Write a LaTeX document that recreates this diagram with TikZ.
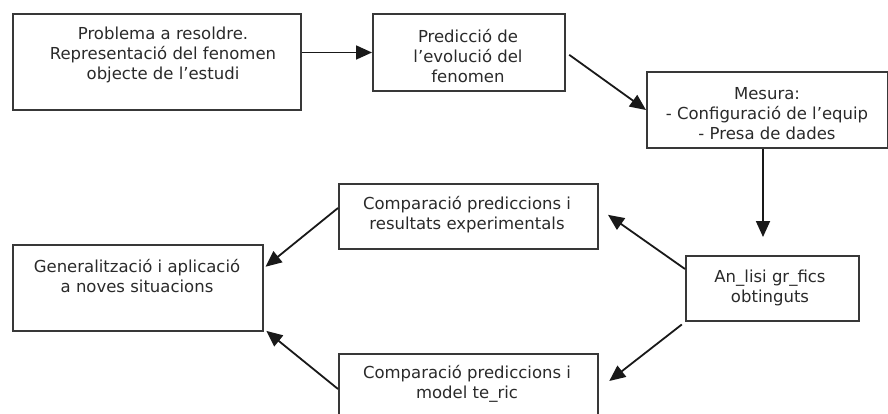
\documentclass[tikz,border=0pt]{standalone}
\usepackage{fontspec}
\setmainfont{DejaVu Sans}
\usetikzlibrary{arrows.meta,calc}
\definecolor{boxline}{HTML}{383838}
\definecolor{txtc}{HTML}{2A2A2A}
\tikzset{
  boxn/.style={draw=boxline, line width=2pt, fill=white, inner sep=0pt, anchor=north west},
  txt/.style={text=txtc, align=center, inner sep=0pt, font=\fontsize{16.5}{20}\selectfont},
  arr/.style={draw=black!90, line width=1.8pt, -{Triangle[length=16pt,width=14pt]}}
}
\begin{document}
\begin{tikzpicture}[x=1pt,y=-1pt]
\useasboundingbox (0,0) rectangle (888,414);
\clip (0,0) rectangle (888,414);
\fill[white] (0,0) rectangle (888,414);
% boxes
\node[boxn, minimum width=288pt, minimum height=96pt] (b1) at (12,13) {};
\node[boxn, minimum width=192pt, minimum height=77pt] (b2) at (372,13) {};
\node[boxn, minimum width=241pt, minimum height=76pt] (b3) at (646,71) {};
\node[boxn, minimum width=173pt, minimum height=65pt] (b4) at (685,255) {};
\node[boxn, minimum width=259pt, minimum height=65pt] (b5) at (338,183) {};
\node[boxn, minimum width=259pt, minimum height=70pt] (b6) at (338,353) {};
\node[boxn, minimum width=250pt, minimum height=86pt] (b7) at (12,244) {};
% texts
\node[txt] (t1) at (163,55) {Problema a resoldre.\\Representació del fenomen\\objecte de l’estudi};
\node[txt] (t2) at (468,56) {Predicció de\\l’evolució del\\fenomen};
\node[txt] (t3) at (767,114) {Mesura:\\- Configuració de l’equip\\- Presa de dades};
\node[txt] (t4) at (770,288) {An\_lisi gr\_fics\\obtinguts};
\node[txt] (t5) at (467,215) {Comparació prediccions i\\resultats experimentals};
\node[txt] (t6) at (467,384) {Comparació prediccions i\\model te\_ric};
\node[txt] (t7) at (137,276) {Generalització i aplicació\\a noves situacions};
% connectors
\draw[arr] (b2.west -| b1.east) -- (b2.west);
\draw[arr, shorten <=4pt] (b2.east) -- (b3.west);
\draw[arr, shorten >=18pt] ([xshift=-4.5pt]b3.south) -- ([xshift=-4.5pt]b3.south |- b4.north);
\draw[arr, shorten >=11pt] ([yshift=19.5pt]b4.west) -- ([yshift=8pt]b5.east);
\draw[arr, shorten <=4pt, shorten >=13pt] (b4.south west) -- (b6.east);
\draw[arr, shorten >=2pt] ([yshift=8.5pt]b5.west) -- ([yshift=20pt]b7.east);
\draw[arr, shorten >=3pt] (b6.west) -- ([yshift=3pt]b7.south east);
\end{tikzpicture}
\end{document}
